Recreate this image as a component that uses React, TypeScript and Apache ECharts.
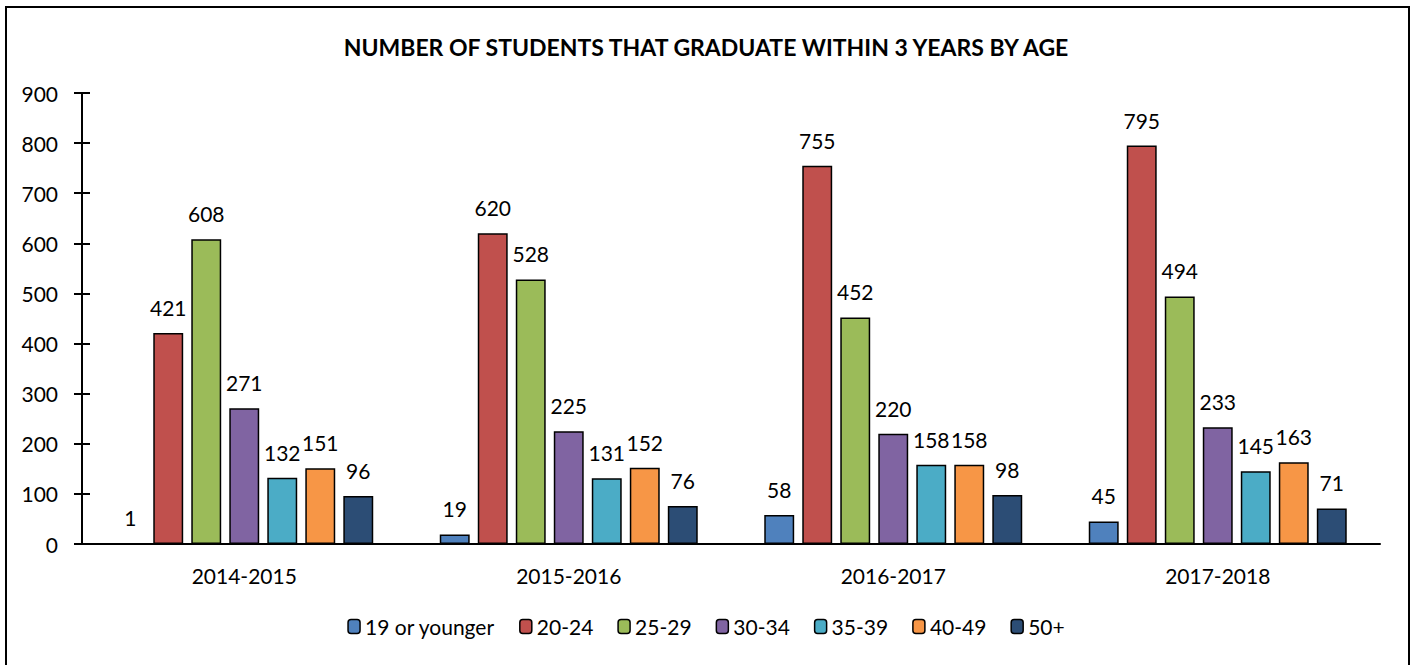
import React, { useEffect, useRef } from "react";
import * as echarts from "echarts";

const titleText = "NUMBER OF STUDENTS THAT GRADUATE WITHIN 3 YEARS BY AGE";
const years = ["2014-2015", "2015-2016", "2016-2017", "2017-2018"];
const seriesNames = ["19 or younger", "20-24", "25-29", "30-34", "35-39", "40-49", "50+"];
const colors = ["#4F81BD", "#C0504D", "#9BBB59", "#8064A2", "#4BACC6", "#F79646", "#2C4D75"];
const age19 = [1, 19, 58, 45];
const age20 = [421, 620, 755, 795];
const age25 = [608, 528, 452, 494];
const age30 = [271, 225, 220, 233];
const age35 = [132, 131, 158, 145];
const age40 = [151, 152, 158, 163];
const age50 = [96, 76, 98, 71];
const allValues = [age19, age20, age25, age30, age35, age40, age50];

const FONT = "Lato";

export default function App() {
  const ref = useRef<HTMLDivElement>(null);
  useEffect(() => {
    if (!ref.current) return;
    const chart = echarts.init(ref.current, null, { renderer: "svg" });
    chart.setOption({
      animation: false,
      backgroundColor: "#fff",
      textStyle: { fontFamily: FONT, color: "#000" },
      title: {
        text: titleText,
        left: "center",
        top: 30,
        textStyle: { fontFamily: FONT, fontWeight: "bold", fontSize: 23, color: "#000" },
      },
      graphic: [
        {
          type: "rect",
          shape: { x: 6, y: 7, width: 1403, height: 700 },
          style: { fill: "none", stroke: "#000", lineWidth: 2 },
          silent: true,
        },
      ],
      legend: {
        bottom: 23,
        left: "center",
        itemWidth: 12,
        itemHeight: 14,
        itemGap: 24,
        textStyle: { fontFamily: FONT, fontSize: 21, color: "#000" },
        data: seriesNames.map((n) => ({ name: n, itemStyle: { borderColor: "#000", borderWidth: 1.5 } })),
      },
      grid: { left: 82, right: 32, top: 93, bottom: 121, containLabel: false },
      xAxis: {
        type: "category",
        data: years,
        axisLine: { lineStyle: { color: "#000", width: 2 } },
        axisTick: { show: false },
        axisLabel: { fontFamily: FONT, fontSize: 21, color: "#000", margin: 21 },
      },
      yAxis: [
        {
          type: "value",
          min: 0,
          max: 900,
          interval: 100,
          axisLine: { show: true, lineStyle: { color: "#000", width: 2 } },
          axisTick: { show: true, length: 8, lineStyle: { color: "#000", width: 2 } },
          axisLabel: { fontFamily: FONT, fontSize: 21, color: "#000", margin: 24 },
          splitLine: { show: false },
        },
        {
          type: "value",
          position: "left",
          min: 0,
          max: 900,
          interval: 100,
          axisLine: { show: false },
          axisTick: { show: true, inside: true, length: 8, lineStyle: { color: "#000", width: 2 } },
          axisLabel: { show: false },
          splitLine: { show: false },
        },
      ],
      series: seriesNames.map((name, i) => ({
        name,
        type: "bar",
        yAxisIndex: 0,
        data: allValues[i],
        barGap: "27%",
        barCategoryGap: "20.5%",
        itemStyle: { color: colors[i], borderColor: "#000", borderWidth: 1.5 },
        label: {
          show: true,
          position: "top",
          distance: 15,
          fontFamily: FONT,
          fontSize: 21,
          color: "#000",
        },
      })),
    });
    return () => chart.dispose();
  }, []);
  return (
    <div
      ref={ref}
      style={{ position: "fixed", left: 0, top: 0, width: 1412, height: 665 }}
    />
  );
}
